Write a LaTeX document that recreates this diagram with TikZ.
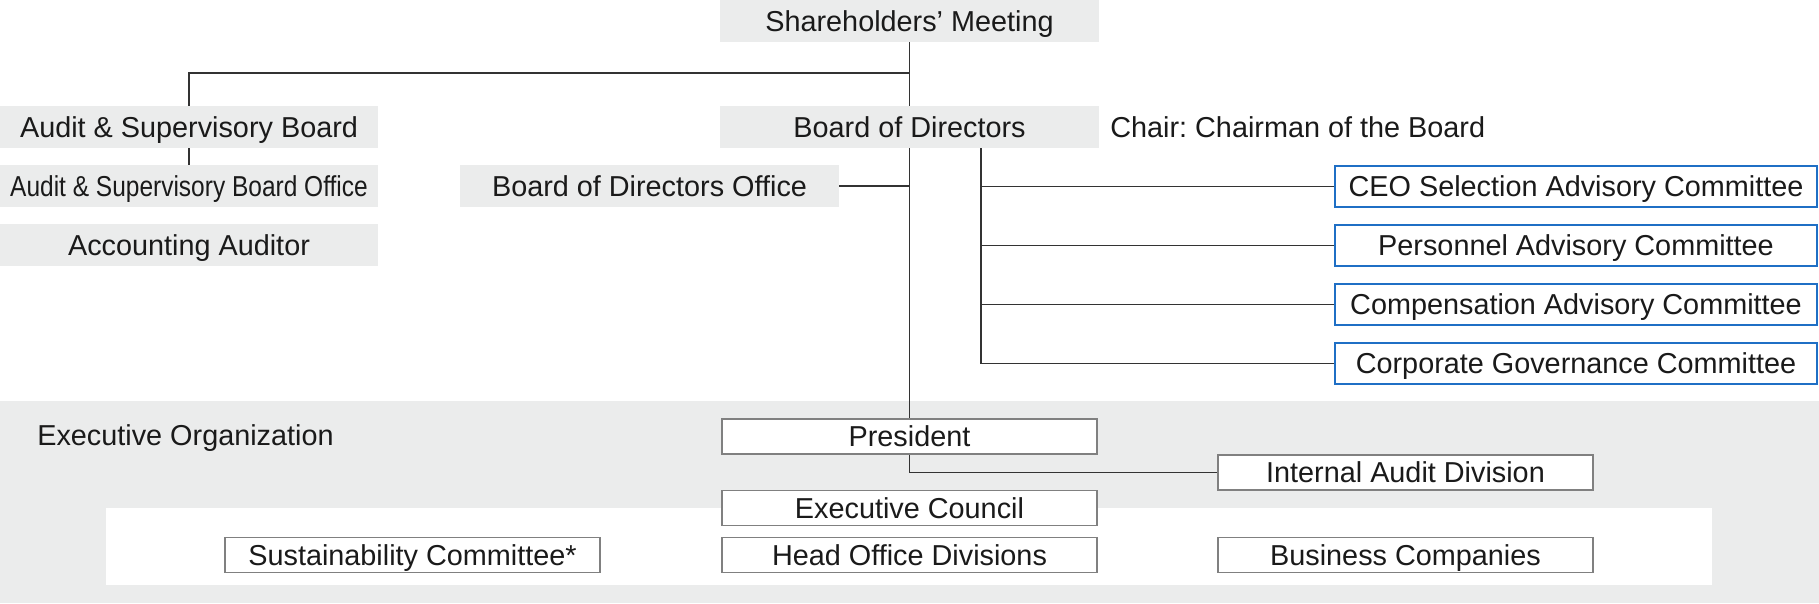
\documentclass[tikz,border=0pt]{standalone}
\usepackage{fontspec}
\setmainfont{Liberation Sans}
\usepackage{graphicx}
\usetikzlibrary{positioning}
\frenchspacing
\definecolor{panelgray}{HTML}{EBECEC}
\definecolor{cmtblue}{HTML}{1F6FC5}
\definecolor{linegray}{HTML}{333333}
\definecolor{textblack}{HTML}{1A1A1A}
\tikzset{
  plaintext/.style={inner sep=0pt, text=textblack, text height=11.8pt, text depth=0pt},
  govbox/.style={plaintext, fill=panelgray, minimum width=7.58cm, minimum height=0.84cm},
  cmtbox/.style={plaintext, draw=cmtblue, line width=0.04cm, fill=white, minimum width=9.64cm, minimum height=0.82cm},
  execbox/.style={plaintext, draw=black!50, line width=0.03cm, fill=white, minimum width=7.5cm, minimum height=0.70cm},
  link/.style={draw=linegray, line width=0.03cm}
}
\begin{document}
\begin{tikzpicture}[x=0.02cm, y=-0.02cm, font=\fontsize{16.4}{19}\selectfont]
  \useasboundingbox (0,0) rectangle (1819,603);
  % executive organization panel
  \fill[panelgray] (0,401) rectangle (1819,603);
  \fill[white] (106,508) rectangle (1712,585);
  \node[plaintext, anchor=west] (execorg) at (37,435) {Executive Organization};
  % governance
  \node[govbox] (sh) at (909.5,21) {Shareholders’ Meeting};
  \node[govbox] (bod) at (909.5,127) {Board of Directors};
  \node[plaintext, anchor=west] (chair) at (1110,127) {Chair: Chairman of the Board};
  \node[govbox] (asb) at (189,127) {Audit \& Supervisory Board};
  \node[govbox] (asbo) at (189,186) {\scalebox{0.85}[1]{Audit \& Supervisory Board Office}};
  \node[govbox] (aa) at (189,245) {Accounting Auditor};
  \node[govbox] (bodo) at (649.5,186) {Board of Directors Office};
  % committees
  \node[cmtbox] (ceo) at (1576,186.5) {CEO Selection Advisory Committee};
  \node[cmtbox] (pers) at (1576,245.5) {Personnel Advisory Committee};
  \node[cmtbox] (comp) at (1576,304.5) {Compensation Advisory Committee};
  \node[cmtbox] (cgc) at (1576,363.5) {Corporate Governance Committee};
  % executive
  \node[execbox] (pres) at (909.5,436.5) {President};
  \node[execbox] (iad) at (1405.5,472.5) {Internal Audit Division};
  \node[execbox] (ec) at (909.5,508) {Executive Council};
  \node[execbox] (sust) at (412.5,555) {Sustainability Committee*};
  \node[execbox] (hod) at (909.5,555) {Head Office Divisions};
  \node[execbox] (bc) at (1405.5,555) {Business Companies};
  % connectors
  \coordinate (split) at (909.5,73);
  \coordinate (cmtbranch) at (981,148);
  \draw[link] (sh) -- (bod);
  \draw[link] (split) -| (asb);
  \draw[link] (asb) -- (asbo);
  \draw[link] (bodo.east) -- (bodo.east -| bod.south);
  \draw[link] (bod) -- (pres);
  \draw[link] (cmtbranch) |- (cgc.west);
  \draw[link] (cmtbranch |- ceo.west) -- (ceo.west);
  \draw[link] (cmtbranch |- pers.west) -- (pers.west);
  \draw[link] (cmtbranch |- comp.west) -- (comp.west);
  \draw[link] (pres.south) |- (iad.west);
\end{tikzpicture}
\end{document}
